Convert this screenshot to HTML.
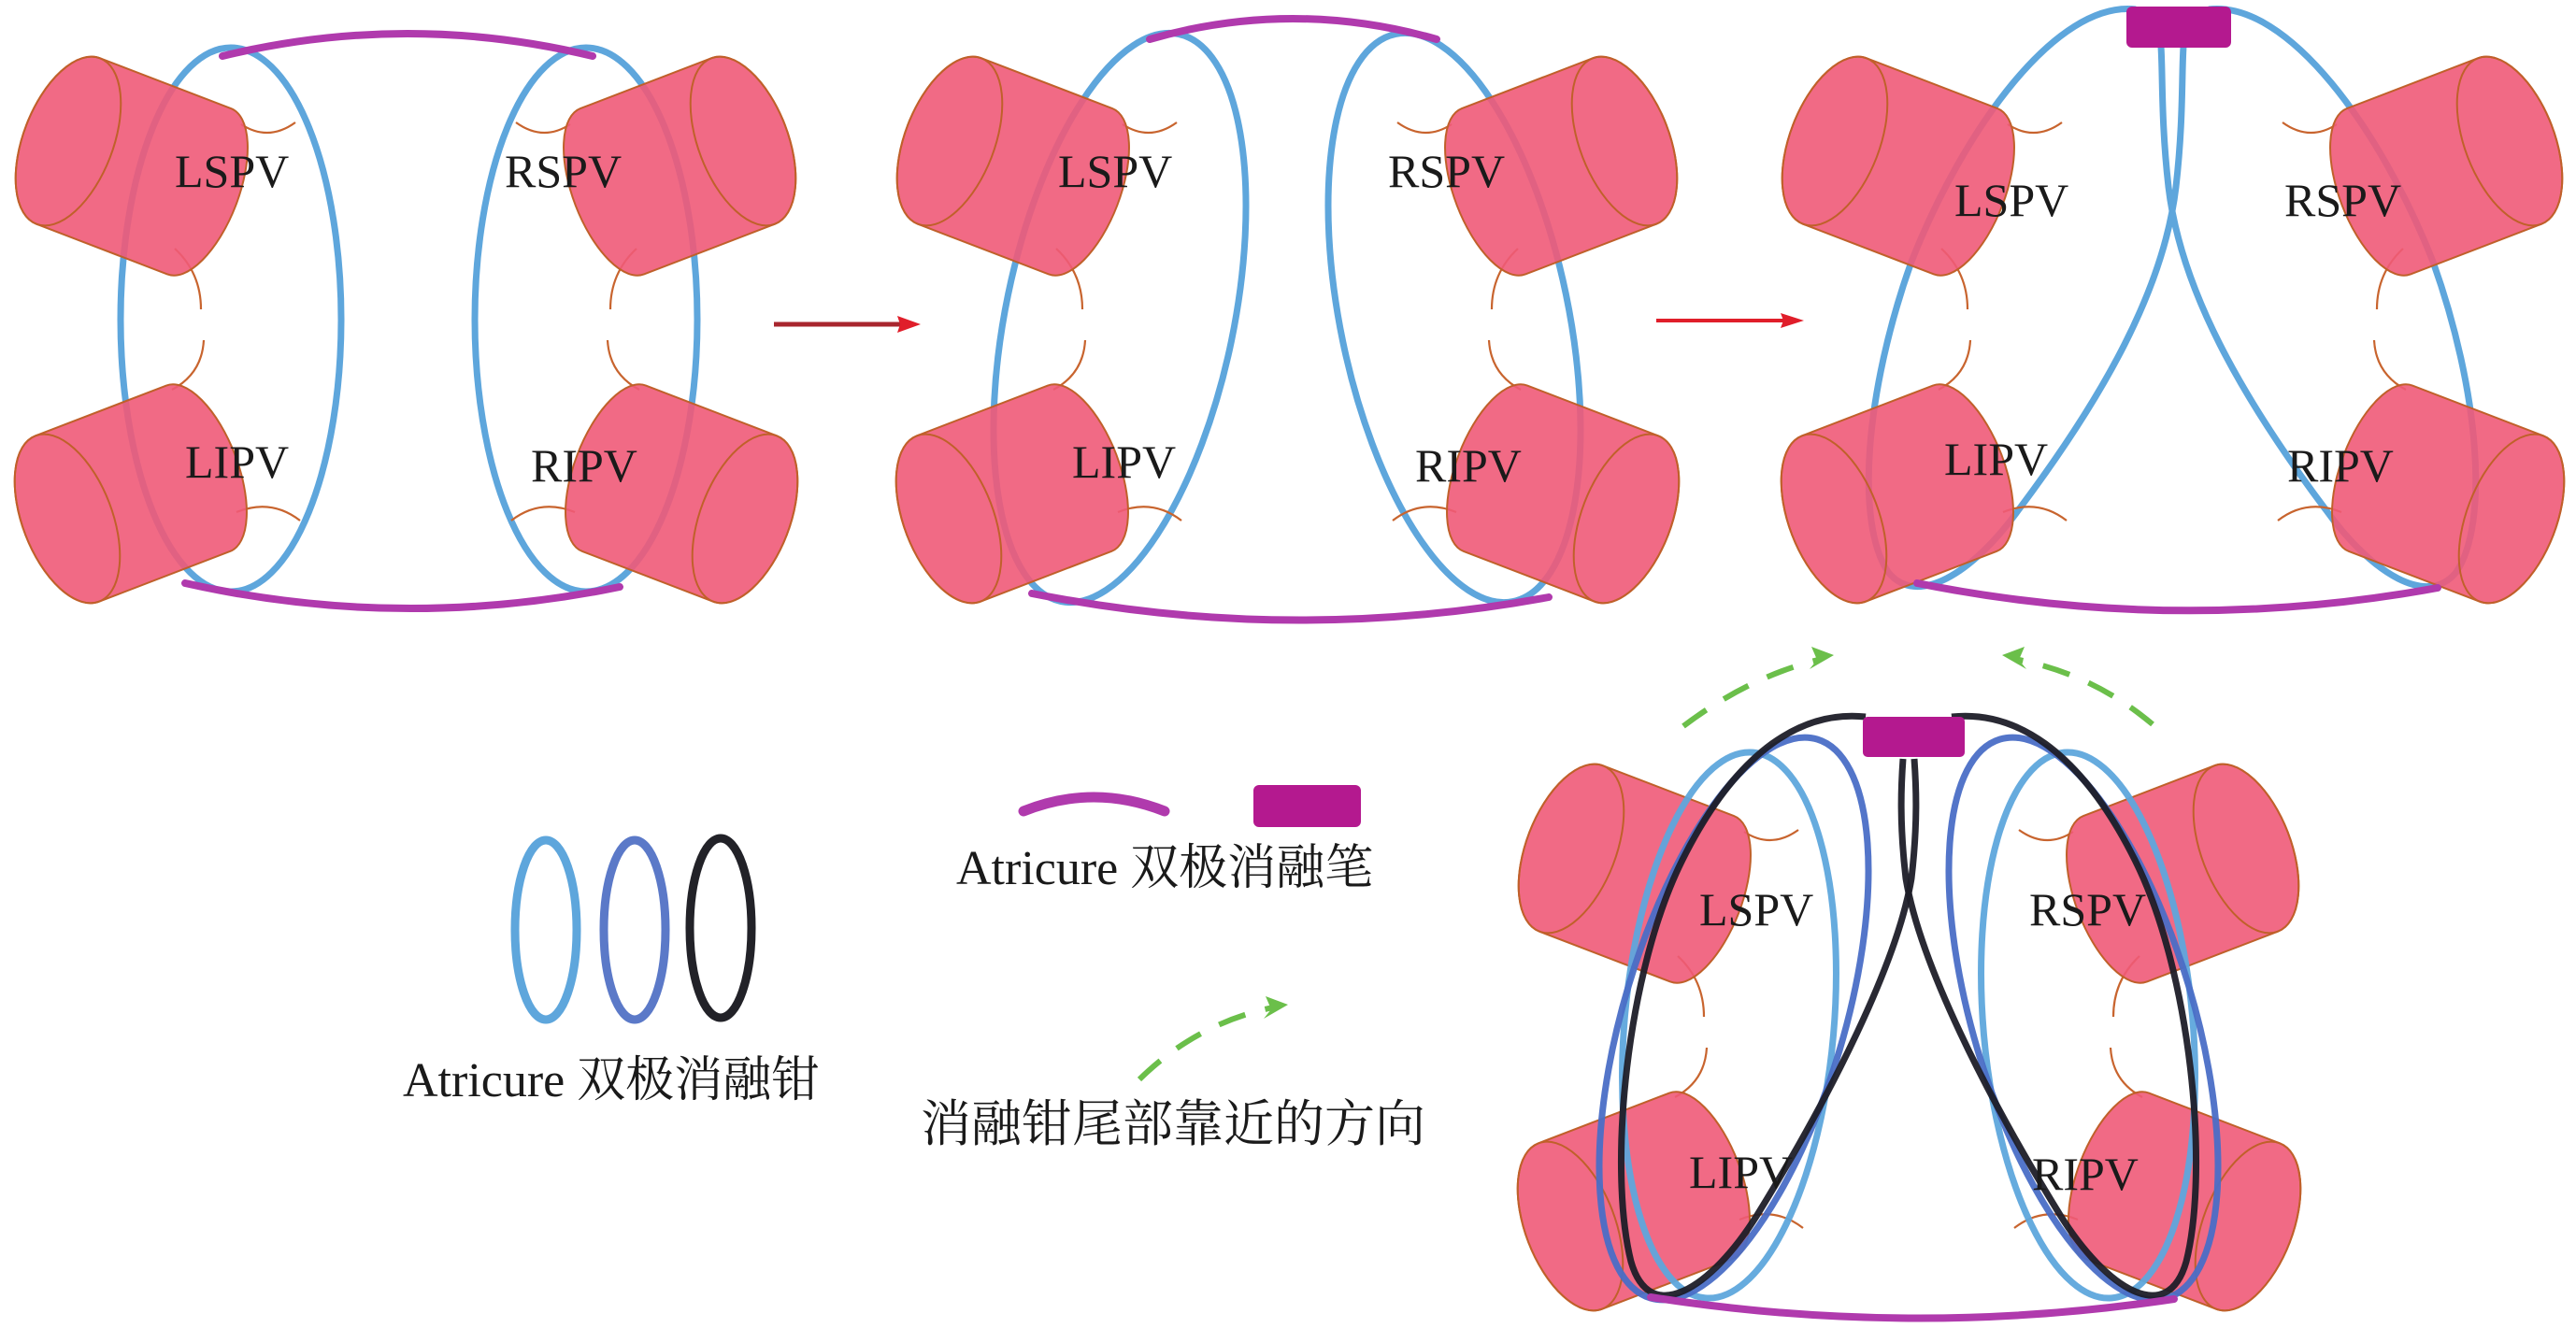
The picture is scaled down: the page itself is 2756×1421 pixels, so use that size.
<!DOCTYPE html>
<html><head><meta charset="utf-8"><style>
html,body{margin:0;padding:0;background:#fff}
svg{display:block}
text{font-family:"Liberation Serif","Noto Serif CJK SC",serif;fill:#1a1a1a}
</style></head><body>
<svg width="2756" height="1421" viewBox="0 0 2756 1421" xmlns="http://www.w3.org/2000/svg">
<defs>
  <g id="cyl">
    <path d="M0,-95 L150,-95 A42,95 0 0 1 150,95 L0,95 A48,95 0 0 1 0,-95Z" fill="#f05a78" fill-opacity="0.9" stroke="#c0602a" stroke-width="2"/>
    <ellipse cx="0" cy="0" rx="48" ry="95" fill="none" stroke="#c0602a" stroke-width="2"/>
  </g>
  <g id="arcs" fill="none" stroke="#c8642e" stroke-width="2.2">
    <path d="M258,133 Q287,152 316,131"/>
    <path d="M187,266 Q215,292 215,331"/>
    <path d="M218,364 Q216,400 184,417"/>
    <path d="M253,548 Q290,533 321,557"/>
  </g>
  <g id="pvs">
    <use href="#arcs"/>
    <use href="#arcs" transform="translate(868,0) scale(-1,1)"/>
    <use href="#cyl" transform="translate(73,151) rotate(21)"/>
    <use href="#cyl" transform="translate(72,555) rotate(-21)"/>
    <use href="#cyl" transform="translate(795,151) scale(-1,1) rotate(21)"/>
    <use href="#cyl" transform="translate(797,555) scale(-1,1) rotate(-21)"/>
  </g>
</defs>

<!-- Panel 1 -->
<g fill="none" stroke="#5ea6dc" stroke-width="7">
  <ellipse cx="247" cy="342" rx="118" ry="291"/>
  <ellipse cx="627" cy="342" rx="119" ry="291"/>
</g>
<use href="#pvs"/>
<g fill="none" stroke="#b03aad" stroke-width="8" stroke-linecap="round">
  <path d="M238,60 Q436,12 634,60"/>
  <path d="M198,624 Q430,676 663,628"/>
</g>
<text x="187" y="200" font-size="50">LSPV</text>
<text x="540" y="200" font-size="50">RSPV</text>
<text x="198" y="511" font-size="50">LIPV</text>
<text x="568" y="515" font-size="50">RIPV</text>

<!-- arrow 1 -->
<line x1="828" y1="347" x2="965" y2="347" stroke="#a8262e" stroke-width="5"/>
<path d="M985,347 L960,338 L963,347 L960,356Z" fill="#e01e2a"/>

<!-- Panel 2 -->
<g fill="none" stroke="#5ea6dc" stroke-width="7">
  <ellipse cx="1198" cy="340" rx="122" ry="310" transform="rotate(11.7 1198 340)"/>
  <ellipse cx="1556" cy="340" rx="122" ry="310" transform="rotate(-11.7 1556 340)"/>
</g>
<use href="#pvs" transform="translate(943,0)"/>
<g fill="none" stroke="#b03aad" stroke-width="8" stroke-linecap="round">
  <path d="M1230,42 Q1383,-2 1537,42"/>
  <path d="M1104,635 Q1380,690 1657,639"/>
</g>
<text x="1132" y="200" font-size="50">LSPV</text>
<text x="1485" y="200" font-size="50">RSPV</text>
<text x="1147" y="511" font-size="50">LIPV</text>
<text x="1514" y="515" font-size="50">RIPV</text>

<!-- arrow 2 -->
<line x1="1772" y1="343" x2="1910" y2="343" stroke="#e01e2a" stroke-width="4"/>
<path d="M1930,343 L1905,335 L1908,343 L1905,351Z" fill="#e01e2a"/>

<!-- Panel 3 -->
<g fill="none" stroke="#5ea6dc" stroke-width="7">
  <path d="M2285,10 C2200,0 2100,140 2045,280 C1995,420 1985,560 2020,612 C2050,650 2110,615 2160,545 C2250,425 2315,310 2328,200 C2336,130 2334,80 2336,50"/>
  <path d="M2363,10 C2448,0 2548,140 2603,280 C2653,420 2663,560 2628,612 C2598,650 2538,615 2488,545 C2398,425 2333,310 2320,200 C2312,130 2314,80 2312,50"/>
</g>
<use href="#pvs" transform="translate(1890,0)"/>
<rect x="2275" y="7" width="112" height="44" rx="6" fill="#b4198f"/>
<path d="M2051,624 Q2330,680 2608,629" fill="none" stroke="#b03aad" stroke-width="8" stroke-linecap="round"/>
<text x="2091" y="231" font-size="50">LSPV</text>
<text x="2444" y="231" font-size="50">RSPV</text>
<text x="2080" y="508" font-size="50">LIPV</text>
<text x="2447" y="515" font-size="50">RIPV</text>

<!-- Panel 4 -->
<use href="#pvs" transform="translate(1608,757)"/>
<g fill="none" stroke-width="7" stroke-opacity="0.95">
  <ellipse cx="1850" cy="1097" rx="112" ry="293" transform="rotate(5 1850 1097)" stroke="#5ea6dc"/>
  <ellipse cx="2234" cy="1097" rx="112" ry="293" transform="rotate(-5 2234 1097)" stroke="#5ea6dc"/>
  <ellipse cx="1855" cy="1090" rx="118" ry="312" transform="rotate(16.6 1855 1090)" stroke="#4a6ec6"/>
  <ellipse cx="2229" cy="1090" rx="118" ry="312" transform="rotate(-16.6 2229 1090)" stroke="#4a6ec6"/>
  <path stroke="#1e1e28" d="M1996,767 C1930,760 1860,800 1800,920 C1740,1040 1720,1250 1745,1350 C1765,1420 1830,1380 1880,1300 C1960,1170 2030,1030 2045,940 C2052,880 2050,840 2048,812"/>
  <path stroke="#1e1e28" d="M2088,767 C2154,760 2224,800 2284,920 C2344,1040 2364,1250 2339,1350 C2319,1420 2254,1380 2204,1300 C2124,1170 2054,1030 2039,940 C2032,880 2034,840 2036,812"/>
</g>
<rect x="1993" y="767" width="109" height="43" rx="5" fill="#b4198f"/>
<path d="M1766,1388 Q2046,1432 2326,1390" fill="none" stroke="#b03aad" stroke-width="8" stroke-linecap="round"/>
<text x="1818" y="990" font-size="50">LSPV</text>
<text x="2171" y="990" font-size="50">RSPV</text>
<text x="1807" y="1271" font-size="50">LIPV</text>
<text x="2174" y="1273" font-size="50">RIPV</text>

<!-- green arrows -->
<g fill="none" stroke="#6bbf4a" stroke-width="6" stroke-dasharray="30,22">
  <path d="M1801,777 Q1870,725 1945,706"/>
  <path d="M2303,775 Q2240,722 2160,706"/>
  <path d="M1219,1155 Q1280,1095 1362,1078"/>
</g>
<g fill="#6bbf4a">
  <path d="M1962,701 L1938,692 L1944,706 L1936,716Z"/>
  <path d="M2142,701 L2166,692 L2160,706 L2168,716Z"/>
  <path d="M1378,1075 L1354,1066 L1360,1080 L1352,1090Z"/>
</g>

<!-- legend -->
<g fill="none" stroke-width="9">
  <ellipse cx="584" cy="995" rx="33" ry="96" stroke="#5ea6dc"/>
  <ellipse cx="679" cy="995" rx="33" ry="96" stroke="#5b79c8"/>
  <ellipse cx="771" cy="993" rx="33" ry="96" stroke="#222228"/>
</g>
<text x="431" y="1173" font-size="52">Atricure 双极消融钳</text>
<path d="M1095,868 Q1170,838 1246,868" fill="none" stroke="#b03aad" stroke-width="11" stroke-linecap="round"/>
<rect x="1341" y="840" width="115" height="45" rx="6" fill="#b4198f"/>
<text x="1023" y="946" font-size="52">Atricure 双极消融笔</text>
<text x="985" y="1221" font-size="54">消融钳尾部靠近的方向</text>
</svg>
</body></html>
